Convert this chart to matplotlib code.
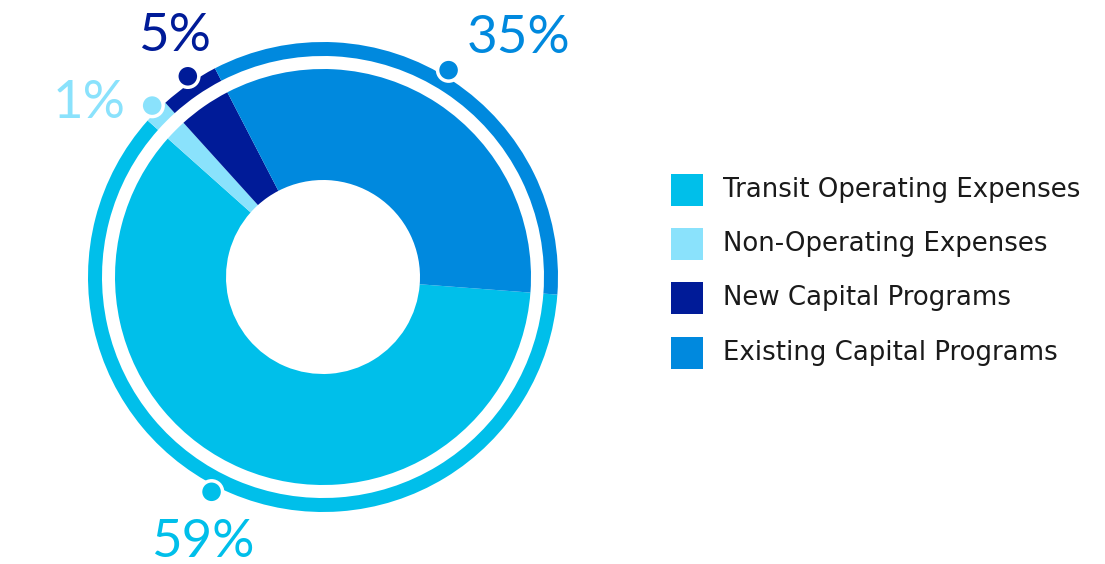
import numpy as np
import matplotlib.pyplot as plt
from matplotlib.patches import Circle, Rectangle

# data (legend order)
categories = ["Transit Operating Expenses", "Non-Operating Expenses",
              "New Capital Programs", "Existing Capital Programs"]
shares = [60.4, 1.7, 4.1, 33.8]          # slice sizes
pct_labels = ["59%", "1%", "5%", "35%"]   # labels as printed
colors = ["#00BFEA", "#8AE2FC", "#001B98", "#0089DE"]

# small clockwise nudges of the dots from the slice middles (degrees)
dot_nudge = [4.4, 0.3, 0.8, -2.2]
# label offsets from each dot (pixels, to centre / baseline)
label_offsets = [(-9, -65), (-63, -12), (-13, 25), (70, 17)]

W, H = 1105, 564
fig = plt.figure(figsize=(W / 100, H / 100), dpi=100)
ax = fig.add_axes([0, 0, 1, 1])

cx, cy = 323, H - 277
start = -4.3

# inner donut
ax.pie(shares, colors=colors, radius=208, center=(cx, cy), startangle=start,
       counterclock=False, wedgeprops=dict(width=111, linewidth=0),
       frame=True)
# outer ring
ax.pie(shares, colors=colors, radius=235, center=(cx, cy), startangle=start,
       counterclock=False, wedgeprops=dict(width=14, linewidth=0),
       frame=True)
ax.set_xlim(0, W)
ax.set_ylim(0, H)
ax.set_aspect("equal")
ax.axis("off")

# dots + percentage labels
cum = np.cumsum([0] + shares[:-1])
for s, c0, nd, col, lab, off in zip(shares, cum, dot_nudge, colors,
                                    pct_labels, label_offsets):
    ang = np.deg2rad(start - (c0 + s / 2) * 3.6 - nd)
    px, py = cx + 242 * np.cos(ang), cy + 242 * np.sin(ang)
    ax.add_patch(Circle((px, py), 11, facecolor=col, edgecolor="white",
                        linewidth=2.5, zorder=5))
    ax.annotate(lab, (px, py), xytext=off, textcoords="offset pixels",
                ha="center", va="baseline", fontsize=38, color=col,
                family="Lato", zorder=6)

# legend
for i, (name, col) in enumerate(zip(categories, colors)):
    y = H - (190 + i * 54.2)
    ax.add_patch(Rectangle((671, y - 16), 32, 32, facecolor=col, linewidth=0))
    ax.text(723, y, name, ha="left", va="center", fontsize=18.7,
            color="#1a1a1a", family="DejaVu Sans")

fig.savefig("out.png", dpi=100)
